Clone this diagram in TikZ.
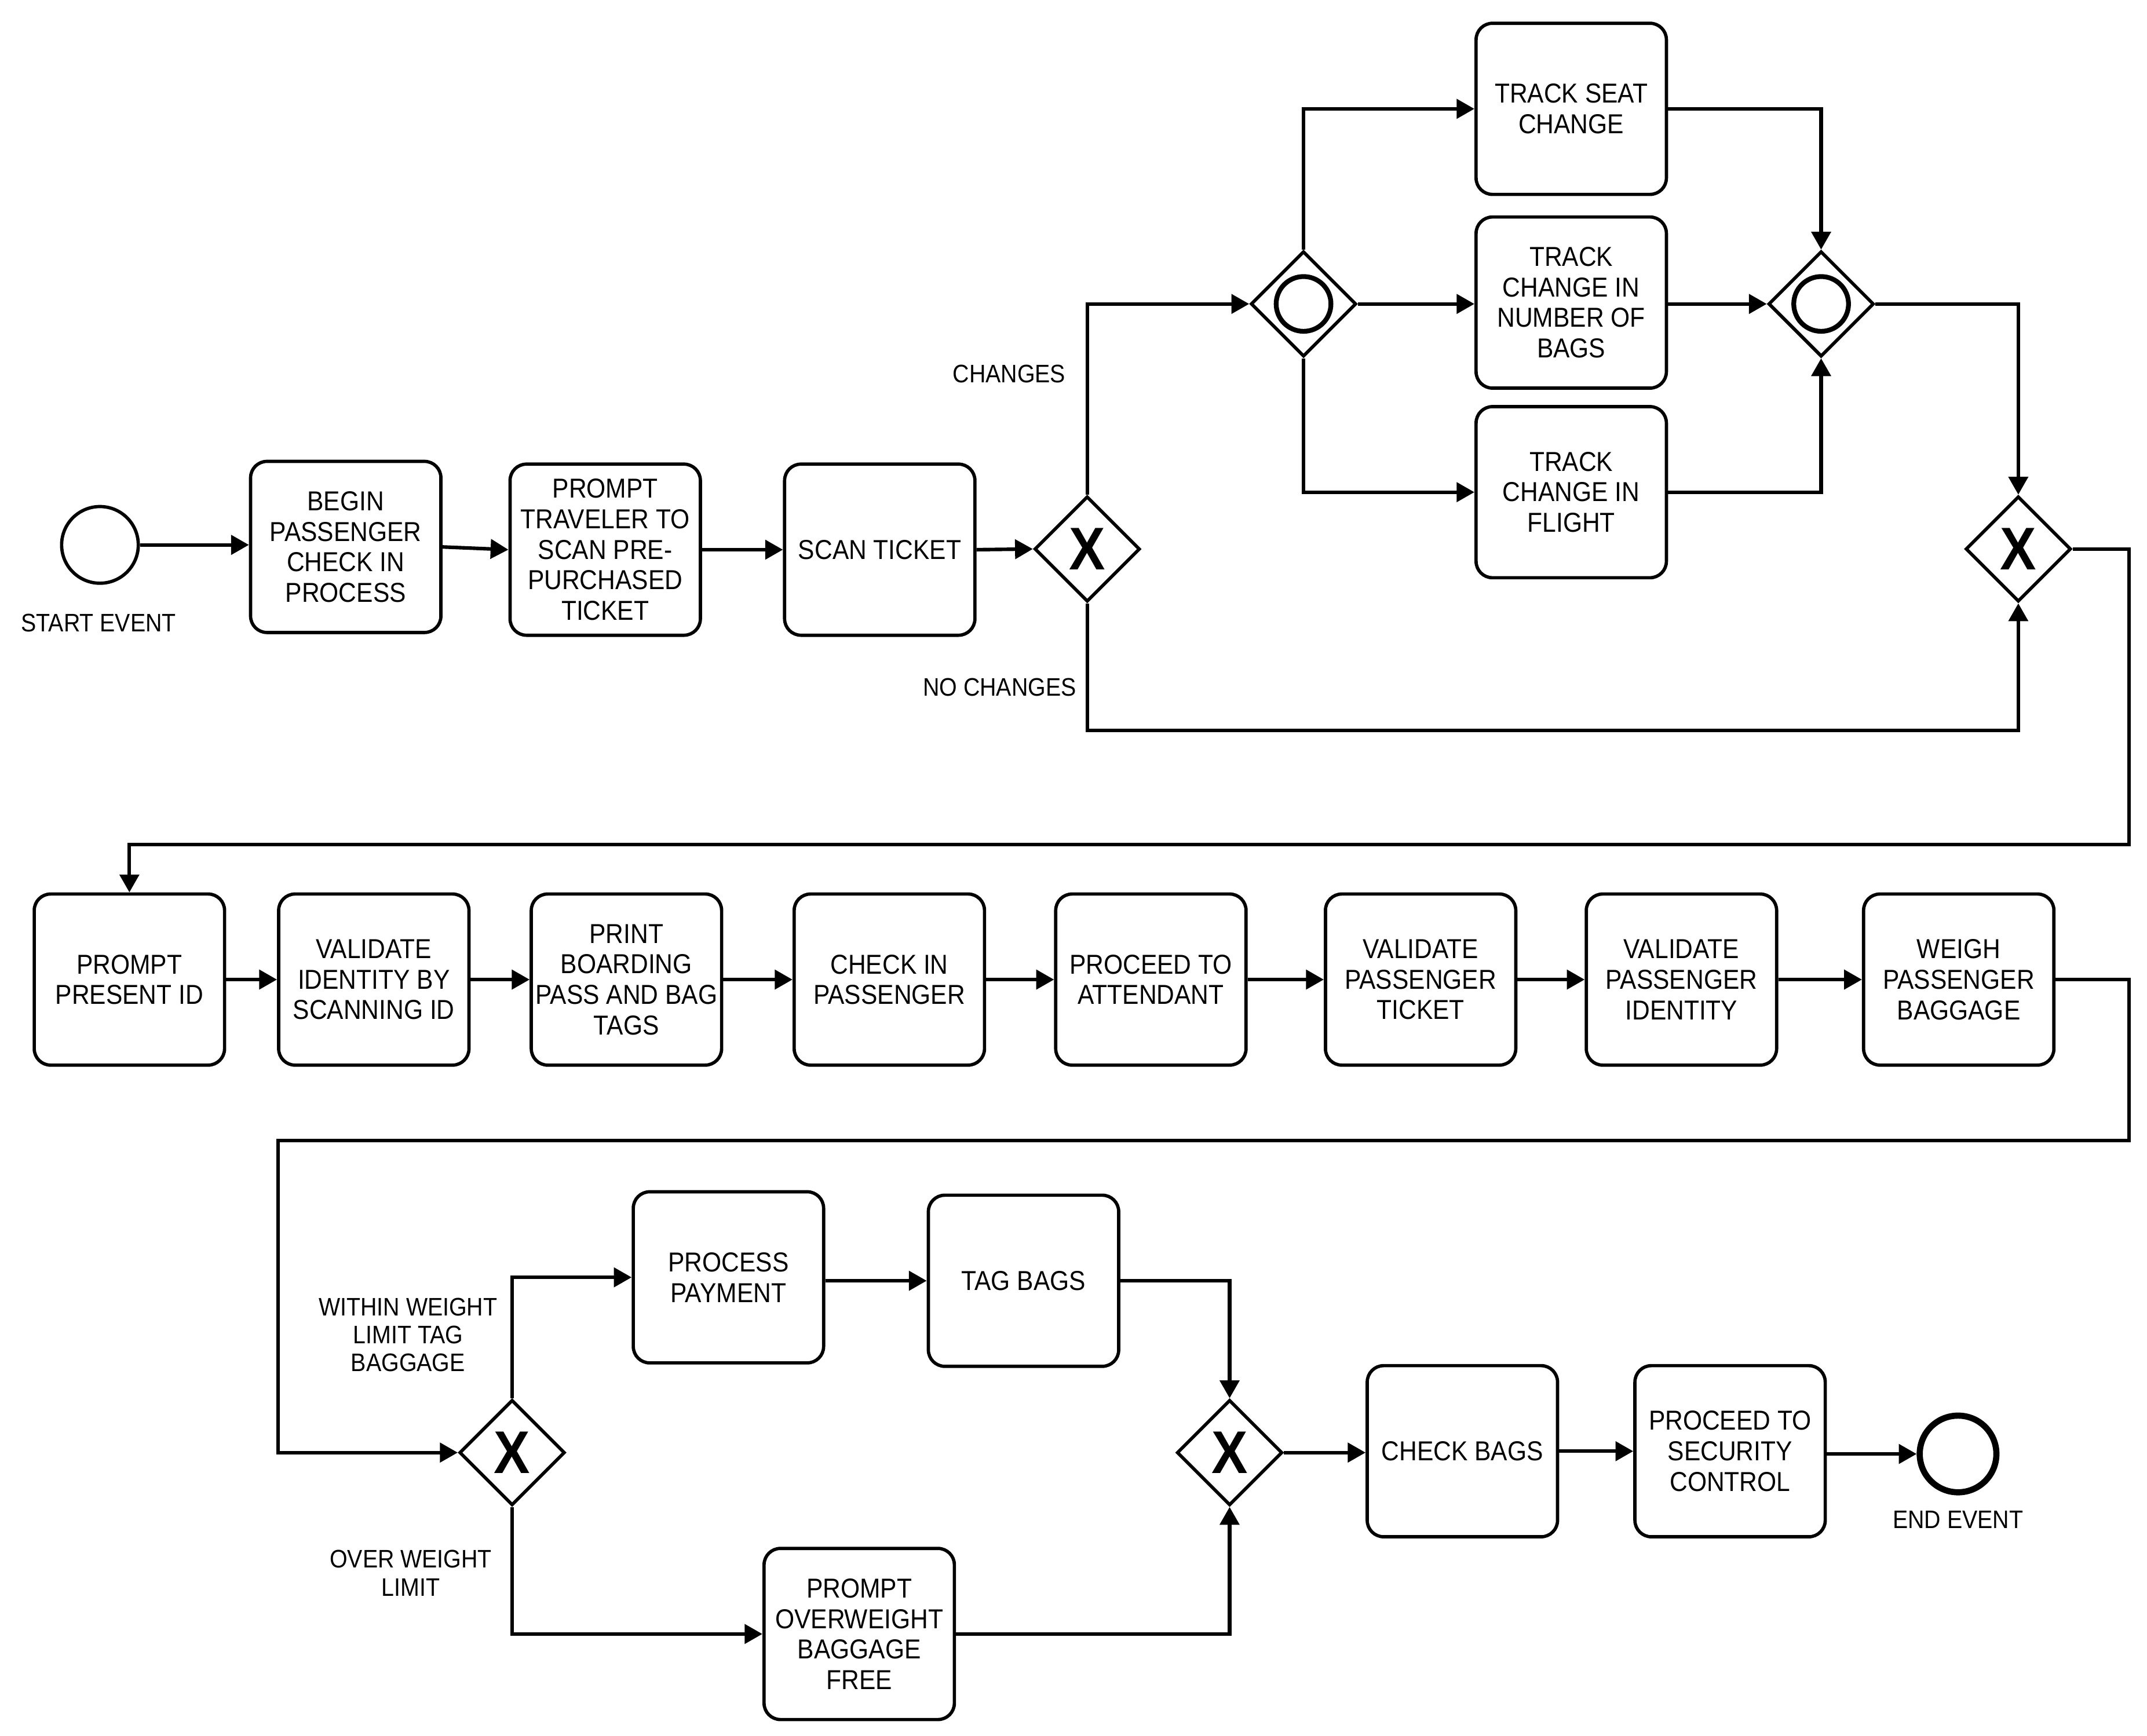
\documentclass[tikz,border=0pt]{standalone}
\usepackage{fontspec}
\setmainfont{Liberation Sans}[FakeStretch=0.9]
\usetikzlibrary{arrows.meta,shapes.geometric}
\begin{document}
\begin{tikzpicture}[x=1pt,y=-1pt,
  task/.style={draw, line width=2.4pt, rounded corners=12pt, minimum width=139pt, minimum height=125pt, inner sep=0pt, align=center, font=\fontsize{20}{22.3}\selectfont},
  gw/.style={diamond, draw, line width=2.4pt, minimum width=77pt, minimum height=77pt, inner sep=0pt, fill=white},
  orcirc/.style={circle, draw, line width=3.5pt, minimum size=40pt, inner sep=0pt},
  xmark/.style={inner sep=0pt, font=\fontsize{44}{44}\selectfont\bfseries},
  startev/.style={circle, draw, line width=2.4pt, minimum size=56pt, inner sep=0pt},
  endev/.style={circle, draw, line width=4.5pt, minimum size=56pt, inner sep=0pt},
  lbl/.style={inner sep=0pt, align=center, font=\fontsize{18.5}{20.5}\selectfont},
  flow/.style={line width=2.6pt, -{Triangle[length=13pt,width=14pt]}}
]
\useasboundingbox[fill=white] (0,0) rectangle (1568,1268);

% events
\node[startev] (start) at (73,398) {};
\node[lbl] (startl) at (72,455) {START EVENT};
\node[endev] (end) at (1430,1062) {};
\node[lbl] (endl) at (1430,1110) {END EVENT};

% first row tasks
\node[task] (begin) at (252.5,399.5) {BEGIN\\PASSENGER\\CHECK IN\\PROCESS};
\node[task] (prompt) at (442,401.5) {PROMPT\\TRAVELER TO\\SCAN PRE-\\PURCHASED\\TICKET};
\node[task] (scan) at (642.5,401.5) {SCAN TICKET};
\node[task] (seat) at (1147.5,79.5) {TRACK SEAT\\CHANGE};
\node[task] (bags) at (1147.5,221) {TRACK\\CHANGE IN\\NUMBER OF\\BAGS};
\node[task] (flight) at (1147.5,359.5) {TRACK\\CHANGE IN\\FLIGHT};

% gateways row 1
\node[gw] (gx1) at (794,401) {};
\node[xmark] (gx1m) at (gx1) {X};
\node[gw] (go1) at (952,222) {};
\node[orcirc] (go1c) at (go1) {};
\node[gw] (go2) at (1330,222) {};
\node[orcirc] (go2c) at (go2) {};
\node[gw] (gx2) at (1474,401) {};
\node[xmark] (gx2m) at (gx2) {X};

\node[lbl] (chl) at (737,273) {CHANGES};
\node[lbl] (nchl) at (730,502) {NO CHANGES};

% second row
\node[task] (ppid) at (94.5,715.5) {PROMPT\\PRESENT ID};
\node[task] (valid) at (273,715.5) {VALIDATE\\IDENTITY BY\\SCANNING ID};
\node[task] (print) at (457.5,715.5) {PRINT\\BOARDING\\PASS AND BAG\\TAGS};
\node[task] (checkin) at (649.5,715.5) {CHECK IN\\PASSENGER};
\node[task] (attend) at (840.5,715.5) {PROCEED TO\\ATTENDANT};
\node[task] (vticket) at (1037.5,715.5) {VALIDATE\\PASSENGER\\TICKET};
\node[task] (vident) at (1228,715.5) {VALIDATE\\PASSENGER\\IDENTITY};
\node[task] (weigh) at (1430.5,715.5) {WEIGH\\PASSENGER\\BAGGAGE};

% third row
\node[gw] (gx3) at (374,1061) {};
\node[xmark] (gx3m) at (gx3) {X};
\node[gw] (gx4) at (898,1061) {};
\node[xmark] (gx4m) at (gx4) {X};
\node[task] (payment) at (532,933) {PROCESS\\PAYMENT};
\node[task] (tag) at (747.5,935.5) {TAG BAGS};
\node[task] (over) at (627.5,1193.5) {PROMPT\\OVERWEIGHT\\BAGGAGE\\FREE};
\node[task] (checkbags) at (1068,1060) {CHECK BAGS};
\node[task] (security) at (1263.5,1060) {PROCEED TO\\SECURITY\\CONTROL};

\node[lbl] (withinl) at (298,975) {WITHIN WEIGHT\\LIMIT TAG\\BAGGAGE};
\node[lbl] (overl) at (300,1149) {OVER WEIGHT\\LIMIT};

% helper coordinates
\coordinate (r1) at (1555,617);
\coordinate (r2) at (1555,833);
\coordinate (r3) at (203,1061);

% connectors row 1
\draw[flow] (start) -- (start -| begin.west);
\draw[flow] (begin.east) -- (prompt.west);
\draw[flow] (prompt.east) -- (scan.west);
\draw[flow] (scan.east) -- (gx1.west);
\draw[flow] (gx1.north) |- (go1.west);
\draw[flow] (go1.north) |- (seat.west);
\draw[flow] (go1.east) -- (go1.east -| bags.west);
\draw[flow] (go1.south) |- (flight.west);
\draw[flow] (seat.east) -| (go2.north);
\draw[flow] (bags.east |- go2.west) -- (go2.west);
\draw[flow] (flight.east) -| (go2.south);
\draw[flow] (go2.east) -| (gx2.north);
\draw[flow] (gx1.south) -- ++(0,93) -| (gx2.south);
\draw[flow] (gx2.east) -| (r1) -| (ppid.north);

% connectors row 2
\draw[flow] (ppid.east) -- (valid.west);
\draw[flow] (valid.east) -- (print.west);
\draw[flow] (print.east) -- (checkin.west);
\draw[flow] (checkin.east) -- (attend.west);
\draw[flow] (attend.east) -- (vticket.west);
\draw[flow] (vticket.east) -- (vident.west);
\draw[flow] (vident.east) -- (weigh.west);
\draw[flow] (weigh.east) -| (r2) -| (r3) -- (gx3.west);

% connectors row 3
\draw[flow] (gx3.north) |- (payment.west);
\draw[flow] (tag.west -| payment.east) -- (tag.west);
\draw[flow] (tag.east) -| (gx4.north);
\draw[flow] (gx3.south) |- (over.west);
\draw[flow] (over.east) -| (gx4.south);
\draw[flow] (gx4.east) -- (gx4.east -| checkbags.west);
\draw[flow] (checkbags.east) -- (security.west);
\draw[flow] (security.east |- end.west) -- (end.west);
\end{tikzpicture}
\end{document}
